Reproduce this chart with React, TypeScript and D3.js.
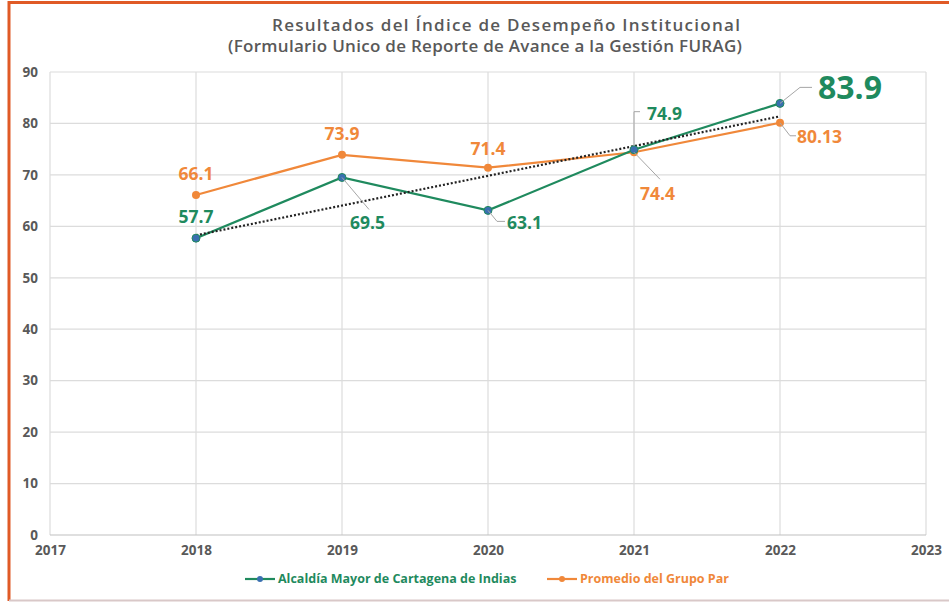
import React, { useEffect, useRef } from 'react';
import * as d3 from 'd3';

const years = [2018, 2019, 2020, 2021, 2022];
const alcaldia = [57.7, 69.5, 63.1, 74.9, 83.9];
const promedio = [66.1, 73.9, 71.4, 74.4, 80.13];
const yTicks = [0, 10, 20, 30, 40, 50, 60, 70, 80, 90];
const xTicks = [2017, 2018, 2019, 2020, 2021, 2022, 2023];
const promedioLabels = ['66.1', '73.9', '71.4', '74.4', '80.13'];
const alcaldiaLabels = ['57.7', '69.5', '63.1', '74.9', '83.9'];

const GREEN = '#1f8a5e';
const ORANGE = '#f0883a';
const GRAY = '#595959';
const FONT = '"Open Sans", sans-serif';

function App() {
  const ref = useRef<SVGSVGElement>(null);

  useEffect(() => {
    const svg = d3.select(ref.current);
    svg.selectAll('*').remove();

    const x = d3.scaleLinear().domain([2017, 2023]).range([50, 926]);
    const y = d3.scaleLinear().domain([0, 90]).range([535, 72]);

    // frame
    svg.append('rect').attr('x', 0).attr('y', 0).attr('width', 949).attr('height', 602).attr('fill', '#fff');
    svg.append('line').attr('x1', 9).attr('x2', 949).attr('y1', 2.5).attr('y2', 2.5).attr('stroke', '#e05a26').attr('stroke-width', 3);
    svg.append('line').attr('x1', 9).attr('x2', 9).attr('y1', 1).attr('y2', 601).attr('stroke', '#e05a26').attr('stroke-width', 3);
    svg.append('line').attr('x1', 9).attr('x2', 949).attr('y1', 600.5).attr('y2', 600.5).attr('stroke', '#d9c8c8').attr('stroke-width', 2);

    // title
    const title = svg.append('text').attr('text-anchor', 'middle').attr('fill', GRAY)
      .attr('font-family', FONT).attr('font-weight', 600).attr('font-size', 17);
    title.append('tspan').attr('x', 506).attr('y', 31).attr('textLength', 468).attr('lengthAdjust', 'spacing')
      .text('Resultados del Índice de Desempeño Institucional');
    title.append('tspan').attr('x', 485).attr('y', 52).attr('textLength', 514).attr('lengthAdjust', 'spacing')
      .text('(Formulario Unico de Reporte de Avance a la Gestión FURAG)');

    // grid
    const grid = svg.append('g');
    grid.selectAll('line.h').data(yTicks.filter(d => d > 0)).enter().append('line')
      .attr('x1', x(2017)).attr('x2', x(2023)).attr('y1', d => y(d)).attr('y2', d => y(d))
      .attr('stroke', '#dcdcdc').attr('stroke-width', 1.2);
    grid.selectAll('line.v').data(xTicks).enter().append('line')
      .attr('x1', d => x(d)).attr('x2', d => x(d)).attr('y1', y(90)).attr('y2', y(0))
      .attr('stroke', '#dcdcdc').attr('stroke-width', 1.2);
    grid.append('line').attr('x1', x(2017)).attr('x2', x(2023)).attr('y1', y(0)).attr('y2', y(0))
      .attr('stroke', '#bfbfbf').attr('stroke-width', 1.2);

    // axes labels
    const yAxis = svg.append('g').attr('transform', 'translate(50,0)')
      .call(d3.axisLeft(y).tickValues(yTicks).tickSize(0).tickPadding(12).tickFormat(d3.format('d')));
    yAxis.select('.domain').remove();
    yAxis.selectAll('text').attr('fill', GRAY).attr('font-family', FONT).attr('font-weight', 700).attr('font-size', 13.5);

    const xAxis = svg.append('g').attr('transform', `translate(0,${y(0)})`)
      .call(d3.axisBottom(x).tickValues(xTicks).tickSize(0).tickPadding(10).tickFormat(d3.format('d')));
    xAxis.select('.domain').remove();
    xAxis.selectAll('text').attr('fill', GRAY).attr('font-family', FONT).attr('font-weight', 700).attr('font-size', 13.5);

    // trend line (least squares of the Alcaldía series)
    const xm = d3.mean(years)!;
    const ym = d3.mean(alcaldia)!;
    const slope = d3.sum(years, (v, i) => (v - xm) * (alcaldia[i] - ym)) / d3.sum(years, v => (v - xm) ** 2);
    const trend = years.map(v => ym + slope * (v - xm));

    const line = d3.line<number>().x((_, i) => x(years[i])).y(d => y(d));

    svg.append('path').datum(promedio).attr('d', line).attr('fill', 'none')
      .attr('stroke', ORANGE).attr('stroke-width', 2.2);
    svg.append('path').datum(alcaldia).attr('d', line).attr('fill', 'none')
      .attr('stroke', GREEN).attr('stroke-width', 2.2);
    svg.append('path').datum([trend[0], trend[trend.length - 1]])
      .attr('d', d3.line<number>().x((_, i) => x(i === 0 ? years[0] : years[years.length - 1])).y(d => y(d)))
      .attr('fill', 'none').attr('stroke', '#222').attr('stroke-width', 2.2).attr('stroke-dasharray', '2 2');

    svg.selectAll('circle.o').data(promedio).enter().append('circle')
      .attr('cx', (_, i) => x(years[i])).attr('cy', d => y(d)).attr('r', 4).attr('fill', ORANGE);
    svg.selectAll('circle.g').data(alcaldia).enter().append('circle')
      .attr('cx', (_, i) => x(years[i])).attr('cy', d => y(d)).attr('r', 4)
      .attr('fill', '#3a6fb0').attr('stroke', GREEN).attr('stroke-width', 1);

    // data labels: offsets relative to the point
    const gOff = [
      { dx: 0, dy: -21, anchor: 'middle', lead: null, size: 17.5 },
      { dx: 8, dy: 45, anchor: 'start', lead: [[0, 0], [27, 32]], size: 17.5 },
      { dx: 19, dy: 12, anchor: 'start', lead: [[0, 0], [9, 11], [17, 11]], size: 17.5 },
      { dx: 13, dy: -36, anchor: 'start', lead: [[0, -4], [0, -38], [6, -38]], size: 17.5 },
      { dx: 38, dy: -16, anchor: 'start', lead: [[0, 0], [20, -16], [32, -16]], size: 32 },
    ];
    const oOff = [
      { dx: 0, dy: -21, anchor: 'middle', lead: null },
      { dx: 0, dy: -21, anchor: 'middle', lead: null },
      { dx: 0, dy: -19, anchor: 'middle', lead: null },
      { dx: 6, dy: 42, anchor: 'start', lead: [[0, 0], [26, 27]] },
      { dx: 17, dy: 14, anchor: 'start', lead: [[0, 0], [10, 13], [16, 13]] },
    ];

    const leadLine = d3.line();
    alcaldia.forEach((v, i) => {
      const px = x(years[i]);
      const py = y(v);
      const o = gOff[i];
      if (o.lead) {
        svg.append('path').attr('d', leadLine(o.lead.map(p => [px + p[0], py + p[1]]) as [number, number][]))
          .attr('fill', 'none').attr('stroke', '#a6a6a6').attr('stroke-width', 1);
      }
      svg.append('text').attr('x', px + o.dx).attr('y', py + o.dy).attr('dy', '0.35em')
        .attr('text-anchor', o.anchor).attr('fill', GREEN).attr('font-family', FONT)
        .attr('font-weight', 700).attr('font-size', o.size).text(alcaldiaLabels[i]);
    });
    promedio.forEach((v, i) => {
      const px = x(years[i]);
      const py = y(v);
      const o = oOff[i];
      if (o.lead) {
        svg.append('path').attr('d', leadLine(o.lead.map(p => [px + p[0], py + p[1]]) as [number, number][]))
          .attr('fill', 'none').attr('stroke', '#a6a6a6').attr('stroke-width', 1);
      }
      svg.append('text').attr('x', px + o.dx).attr('y', py + o.dy).attr('dy', '0.35em')
        .attr('text-anchor', o.anchor).attr('fill', ORANGE).attr('font-family', FONT)
        .attr('font-weight', 700).attr('font-size', 17.5).text(promedioLabels[i]);
    });

    // legend
    const legend = [
      { name: 'Alcaldía Mayor de Cartagena de Indias', color: GREEN, dot: '#3a6fb0', x: 245 },
      { name: 'Promedio del Grupo Par', color: ORANGE, dot: ORANGE, x: 547 },
    ];
    const lg = svg.selectAll('g.legend').data(legend).enter().append('g')
      .attr('transform', d => `translate(${d.x},579)`);
    lg.append('line').attr('x1', 0).attr('x2', 30).attr('y1', 0).attr('y2', 0)
      .attr('stroke', d => d.color).attr('stroke-width', 2.2);
    lg.append('circle').attr('cx', 15).attr('cy', 0).attr('r', 3).attr('fill', d => d.dot);
    lg.append('text').attr('x', 33).attr('y', 0).attr('dy', '0.35em').attr('fill', d => d.color)
      .attr('font-family', FONT).attr('font-weight', 700).attr('font-size', 12.5).text(d => d.name);
  }, []);

  return <svg ref={ref} width={949} height={602} style={{ position: 'absolute', left: 0, top: 0 }} />;
}

export default App;
